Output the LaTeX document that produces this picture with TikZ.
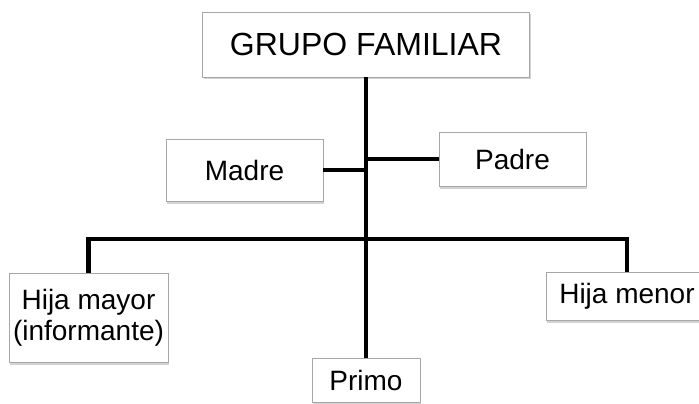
\documentclass[tikz,border=0pt]{standalone}
\usepackage{fontspec}
\setmainfont{Liberation Sans}
\usepackage{tikz}
\usetikzlibrary{shadows}

\begin{document}
\begin{tikzpicture}[
    x=1pt, y=-1pt,
    box/.style={draw=gray!70, line width=0.8pt, fill=white, align=center, inner sep=0pt,
        drop shadow={shadow xshift=1pt, shadow yshift=-2.5pt, opacity=0.35},
        font=\fontsize{28}{31}\selectfont},
    conn/.style={line width=4.5pt, black}
]
\useasboundingbox (0,0) rectangle (699,404);

% cabecera
\node[box, minimum width=327pt, minimum height=65pt, font=\fontsize{32}{36}\selectfont] (G) at (366,44.5) {GRUPO FAMILIAR};

% padres
\node[box, minimum width=157pt, minimum height=62pt] (M) at (244.5,170) {Madre};
\node[box, minimum width=147pt, minimum height=54pt] (P) at (512.5,159) {Padre};

% hijos y primo
\node[box, minimum width=159pt, minimum height=89pt] (HM) at (88.5,317.5) {Hija mayor\\(informante)};
\node[box, minimum width=162pt, minimum height=48pt] (HN) at (627,296) {Hija menor};
\node[box, minimum width=108pt, minimum height=44pt] (Pr) at (366,380) {Primo};

% conectores
\coordinate (bar) at (366,239);
\draw[conn] (G.south) -- (Pr.north);
\draw[conn] (M.east) -- (M.east -| G.south);
\draw[conn] (P.west) -- (P.west -| G.south);
\draw[conn] (HM.north) |- (bar) -| (HN.north);

\end{tikzpicture}
\end{document}
